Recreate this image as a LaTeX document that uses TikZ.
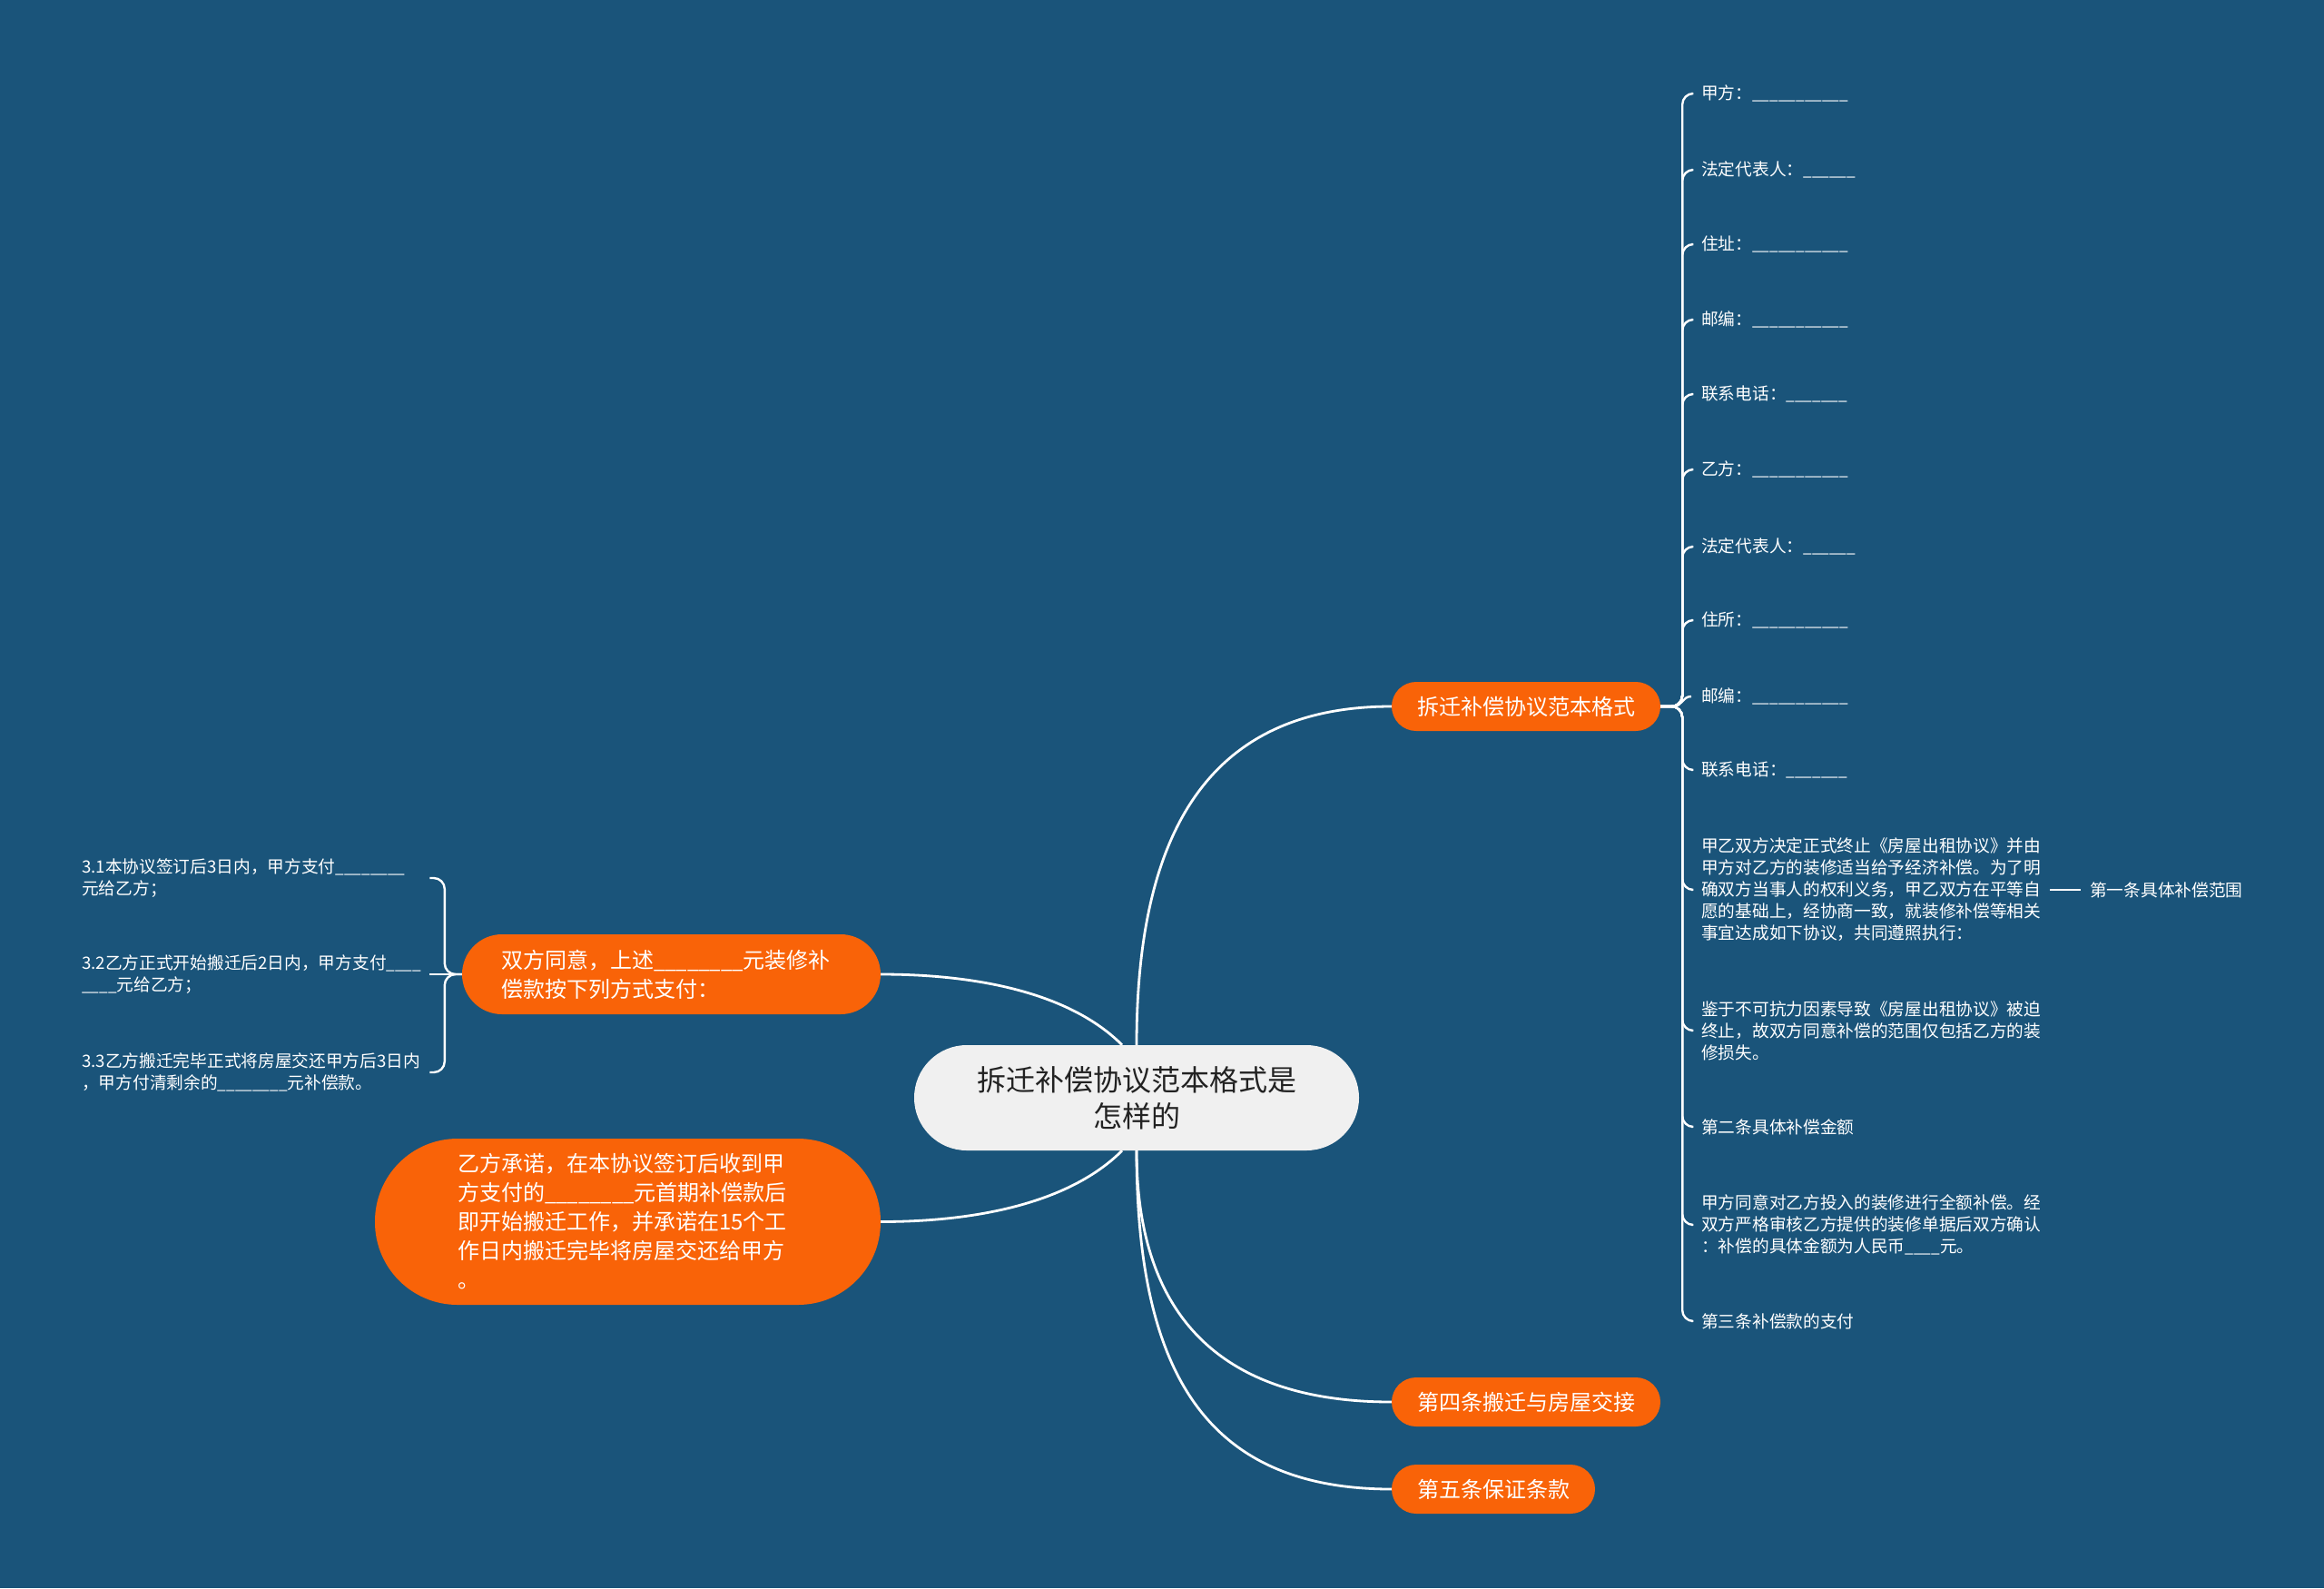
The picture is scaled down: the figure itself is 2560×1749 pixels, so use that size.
\documentclass[tikz,border=0pt]{standalone}
\usepackage{fontspec}
\usepackage{graphicx}
\setmainfont{Noto Sans CJK SC}
\usetikzlibrary{calc}
\definecolor{bgc}{RGB}{26,84,122}
\definecolor{org}{RGB}{249,99,8}
\definecolor{cen}{RGB}{240,240,240}
\definecolor{dark}{RGB}{34,34,34}
\pgfdeclarelayer{bglayer}
\pgfdeclarelayer{lines}
\pgfsetlayers{bglayer,lines,main}
\newcommand{\us}[1]{\scalebox{0.92}[1]{\foreach \i in {1,...,#1}{\_}}}
\begin{document}
\begin{tikzpicture}[x=1pt,y=-1pt,
  obox/.style={fill=org, text=white, inner ysep=0pt, font=\fontsize{24}{32}\selectfont},
  leaf/.style={text=white, inner sep=0pt, anchor=west, align=left, font=\fontsize{18.7}{24}\selectfont},
  conn/.style={draw=white, line width=2.4pt},
  mconn/.style={draw=white, line width=2.8pt},
  fconn/.style={draw=white, line width=1.8pt}]
\begin{pgfonlayer}{bglayer}
\fill[bgc] (0,0) rectangle (2560,1749);
\end{pgfonlayer}
\useasboundingbox (0,0) rectangle (2560,1749);

% central node
\node[fill=cen, text=dark, minimum width=490, minimum height=116, rounded corners=58, align=center, inner sep=0pt, font=\fontsize{32}{40}\selectfont] (c) at (1252,1209) {拆迁补偿协议范本格式是\\怎样的};

% main branches
\node[obox, minimum width=296, minimum height=54, rounded corners=27] (b1) at (1681,778) {拆迁补偿协议范本格式};
\node[obox, minimum width=296, minimum height=54, rounded corners=27] (b4) at (1681,1544) {第四条搬迁与房屋交接};
\node[obox, minimum width=224, minimum height=54, rounded corners=27] (b5) at (1645,1640) {第五条保证条款};
\node[obox, minimum height=88, rounded corners=44, align=left, inner xsep=43, text width=375] (b2) at (739.5,1073) {双方同意，上述\us{8}元装修补\\偿款按下列方式支付：};
\node[obox, minimum height=183, rounded corners=91, align=left, inner xsep=91, text width=375] (b3) at (691.5,1345.5) {乙方承诺，在本协议签订后收到甲\\方支付的\us{8}元首期补偿款后\\即开始搬迁工作，并承诺在15个工\\作日内搬迁完毕将房屋交还给甲方\\。};

% right leaves
\node[leaf] (r1) at (1874,103) {甲方：\us{11}};
\node[leaf] (r2) at (1874,187) {法定代表人：\us{6}};
\node[leaf] (r3) at (1874,269) {住址：\us{11}};
\node[leaf] (r4) at (1874,352) {邮编：\us{11}};
\node[leaf] (r5) at (1874,434) {联系电话：\us{7}};
\node[leaf] (r6) at (1874,517) {乙方：\us{11}};
\node[leaf] (r7) at (1874,602) {法定代表人：\us{6}};
\node[leaf] (r8) at (1874,683) {住所：\us{11}};
\node[leaf] (r9) at (1874,767) {邮编：\us{11}};
\node[leaf] (r10) at (1874,848) {联系电话：\us{7}};
\node[leaf] (p1) at (1874,980) {甲乙双方决定正式终止《房屋出租协议》并由\\甲方对乙方的装修适当给予经济补偿。为了明\\确双方当事人的权利义务，甲乙双方在平等自\\愿的基础上，经协商一致，就装修补偿等相关\\事宜达成如下协议，共同遵照执行：};
\node[leaf] (p2) at (1874,1135) {鉴于不可抗力因素导致《房屋出租协议》被迫\\终止，故双方同意补偿的范围仅包括乙方的装\\修损失。};
\node[leaf] (r13) at (1874,1241) {第二条具体补偿金额};
\node[leaf] (p3) at (1874,1349) {甲方同意对乙方投入的装修进行全额补偿。经\\双方严格审核乙方提供的装修单据后双方确认\\：补偿的具体金额为人民币\us{4}元。};
\node[leaf] (r15) at (1874,1455) {第三条补偿款的支付};
\node[leaf] (f1) at (2302,980) {第一条具体补偿范围};

% left leaves
\node[leaf, text width=383] (l1) at (90,967) {3.1本协议签订后3日内，甲方支付\us{8}\\元给乙方；};
\node[leaf, text width=383] (l2) at (90,1073) {3.2乙方正式开始搬迁后2日内，甲方支付\us{4}\\\us{4}元给乙方；};
\node[leaf, text width=383] (l3) at (90,1181) {3.3乙方搬迁完毕正式将房屋交还甲方后3日内\\，甲方付清剩余的\us{8}元补偿款。};

\begin{pgfonlayer}{lines}
% central connectors
\draw[mconn] (c.north) .. controls +(0,-250) and +(-190,0) .. (b1.west);
\draw[mconn] (c.south) .. controls +(0,180) and +(-190,0) .. (b4.west);
\draw[mconn] (c.south) .. controls +(0,250) and +(-200,0) .. (b5.west);
\draw[mconn] ([xshift=-16pt]c.north) .. controls +(-56,-56) and +(110,0) .. (b2.east);
\draw[mconn] ([xshift=-16pt]c.south) .. controls +(-56,56) and +(110,0) .. (b3.east);
% right tree
\foreach \n in {r1,r2,r3,r4,r5,r6,r7,r8,r10,p1,p2,r13,p3,r15}{
  \draw[conn, rounded corners=12pt] (b1.east) -- ++(24,0) |- ([xshift=-11pt]\n.west);
}
\draw[conn] (b1.east) -- ++(14,0) .. controls +(10,0) and +(-10,0) .. ([xshift=-11pt]r9.west);
\draw[fconn] ([xshift=10pt]p1.east) -- ([xshift=-10pt]f1.west);
% left bracket
\draw[conn, rounded corners=12pt] (b2.west) -- ++(-19,0) |- (l1.east);
\draw[conn, rounded corners=12pt] (b2.west) -- ++(-19,0) |- (l3.east);
\draw[conn] (b2.west) -- (l2.east);
\end{pgfonlayer}
\end{tikzpicture}
\end{document}
